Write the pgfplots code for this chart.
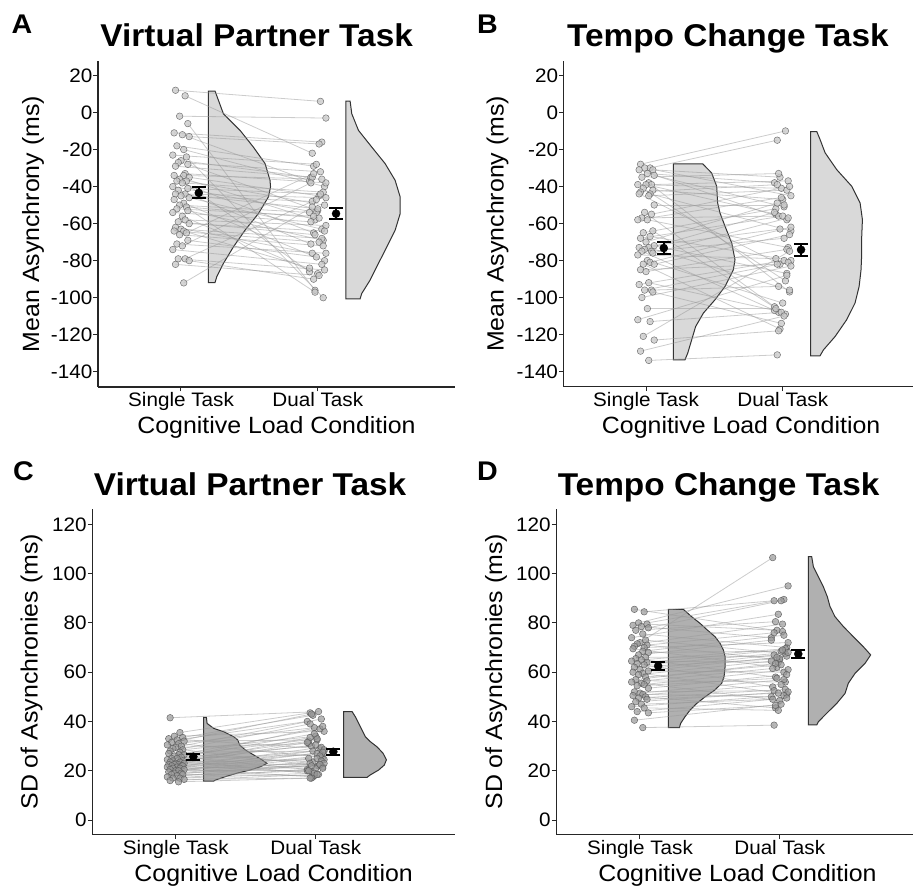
\documentclass[border=0pt]{standalone}
\usepackage{fontspec}
\setmainfont{Liberation Sans}[FakeStretch=1.06]
\usepackage{pgfplots}
\usepackage{pgfplotstable}
\pgfplotsset{compat=1.18}

\pgfplotstableread{
xs   xd   a1   a2    b1    b2    c1    c2    d1    d2
0.96 2.02  12    6   -28   -10   41.5  44    85.5  76.5
1.03 1.96   9  -22   -30   -15   35.5  43.5  84.5  89
0.99 2.06  -2   -3   -30   -45   34    36    80    95
1.05 1.98  -6  -96   -31   -35   33.5  42.5  79.5  77
0.95 2.03 -11  -16   -31   -58   33    29    79    89.5
1.01 1.94 -12  -37   -33   -38   32.5  40    78.5  74
1.06 2.01 -13  -17   -34   -51   32    32.5  78    89
0.97 1.97 -18  -29   -35   -33   31.5  43    77    80.5
1.02 2.05 -20  -40   -38   -97   31    25.5  75.5  70
0.94 1.99 -23  -28   -39   -41   30.5  37.5  74    83.5
1.04 2.04 -24 -100   -39   -37   30    41    73    67.5
1.00 1.95 -26  -35   -39   -55   29.5  31    72    106.5
0.98 2.02 -27  -32   -41   -91   29    22    71.5  79.5
1.05 2.00 -28  -53   -42   -47   28.5  34    71    65
0.96 1.96 -29  -35   -43   -39   28    39    70.5  76
1.03 2.06 -33  -38   -44   -64   27.5  28    70    72
0.95 1.98 -34  -58   -44   -82   27    23.5  69.5  62
1.02 2.03 -34  -36   -45   -42   26.5  37    68.5  75
1.06 2.01 -35  -45   -50   -50   26.5  33    68    68.5
0.99 1.94 -36  -86   -54  -105   26    20.5  67    73
1.04 2.05 -37  -50   -55   -40   25.5  38    66    66.5
0.97 1.97 -37  -65   -57   -56   25    30    65.5  58
1.01 2.04 -38  -43   -58   -73   25    26.5  65    69.5
0.94 1.99 -40  -54   -58   -46   24.5  35    64.5  64
1.05 2.02 -41  -44   -64  -109   24    18.5  64    69
0.98 1.95 -42  -71   -65   -52   24    32    63.5  54
1.03 2.06 -44  -46   -67   -80   23.5  24.5  63    68
0.96 2.00 -44  -52   -68   -56   23.5  30.5  62    65.5
1.00 1.96 -45  -48   -70   -49   23    33.5  61    67
1.06 2.03 -46  -63   -72   -87   23    22.5  60.5  60
0.95 1.98 -47  -97   -73   -63   22.5  28    60    66
1.02 2.05 -49  -80   -73   -96   22.5  21.5  59.5  51
0.99 1.94 -50  -54   -74   -54   22.5  31.5  59    64.5
1.04 2.01 -51  -57   -75   -68   22    27    58    63
0.97 1.97 -52  -56   -75  -108   22    19.5  57    63.5
1.05 2.04 -53  -69   -76   -57   22    29.5  56.5  56
0.94 1.95 -54  -59   -77   -79   21.5  25    56    61.5
1.01 2.00 -56  -87   -80  -103   21.5  21    55.5  48.5
1.03 2.06 -58  -61   -81   -62   21    28.5  55    61
0.98 1.98 -59  -66   -82  -117   21    17.5  54.5  57.5
1.06 2.05 -60  -64   -82   -66   20.5  27.5  53.5  59
0.96 1.96 -62  -76   -85   -82   20.5  23    52    52.5
1.00 2.03 -63  -68   -86   -74   20    26    51.5  57
1.02 1.94 -64  -84   -92  -107   20    20    51    50
0.95 2.01 -64  -70   -93   -80   19.5  25    50.5  55
1.04 1.97 -65  -33   -96   -94   19    22    50    45.5
0.99 2.04 -66  -72   -96   -81   19    24    49.5  53
1.05 1.99 -69  -78   -97  -114   18.5  18    49    51.5
0.97 2.06 -71  -76  -100   -83   18.5  23    48    52
1.01 1.95 -72  -38  -106  -106   18    20    47    49
0.94 2.03 -74  -82  -112   -88   17.5  22.5  46    50.5
1.03 1.99 -79  -47  -113  -108   17    19    45.5  44.5
0.98 2.05 -79  -85  -121   -75   17    21    44    49.5
1.06 1.97 -80  -90  -123  -118   16.5  17    43.5  46.5
0.96 2.01 -82  -88  -129  -110   16    18.5  40.5  47
1.02 1.96 -92  -51  -134  -131   15.5  17    37.5  38.5
}\data

\pgfplotsset{
  rc/.style={
    scale only axis, anchor=south west, clip=false,
    axis x line*=bottom, axis y line*=left,
    axis line style={black!85, line width=1.1pt},
    tick style={black!85, line width=1pt},
    major tick length=4.5pt, tick align=outside,
    xtick={1,2}, xticklabels={Single Task, Dual Task},
    ticklabel style={font=\fontsize{19.5}{22}\selectfont, text=black},
    /pgf/number format/assume math mode=true,
    yticklabel style={inner sep=1pt},
    xticklabel style={inner sep=1pt},
    label style={font=\fontsize{23.5}{27}\selectfont},
    xlabel style={anchor=base},
    ylabel style={anchor=base},
    every axis title shift=0pt,
    title style={font=\bfseries\fontsize{31.5}{35}\selectfont, anchor=base},
  },
  vAB/.style={fill=black!15, draw=black!80, line width=1pt},
  vCD/.style={fill=black!31, draw=black!80, line width=1pt},
  lns/.style={-, draw=black!40, draw opacity=0.5, line width=0.8pt, mark=none},
  ptAB/.style={only marks, mark=*, mark size=3.3pt,
    mark options={fill=black!22, draw=black!62, line width=0.5pt, fill opacity=0.75, draw opacity=0.85}},
  ptCD/.style={only marks, mark=*, mark size=3.3pt,
    mark options={fill=black!40, draw=black!65, line width=0.5pt, fill opacity=0.7, draw opacity=0.85}},
  meanst/.style={only marks, mark=*, mark size=4pt, black,
    error bars/.cd, y dir=both, y explicit, error mark=none,
    error bar style={line width=2pt, black}},
  capst/.style={only marks, mark=-, mark size=7pt, black, mark options={line width=2pt, black}},
}

\begin{document}
\begin{tikzpicture}
\path[use as bounding box] (0pt,0pt) rectangle (914pt,892pt);

% ---------------- A
\begin{axis}[rc, at={(98pt,505pt)}, width=357pt, height=326pt,
  xmin=0.393, xmax=3.004, ymin=-148.2, ymax=27.8, ytick={-140,-120,...,20},
  title={Virtual Partner Task}, title style={at={(axis description cs:0.4445,1.044)}},
  xlabel={Cognitive Load Condition}, xlabel style={at={(axis description cs:0.5,-0.144)}},
  ylabel={Mean Asynchrony (ms)}, ylabel style={at={(axis description cs:-0.165,0.5)}}]
\addplot[vAB] coordinates {(1.2,-91.8) (1.2,11.55) (1.249,11.55) (1.31,-0.67) (1.432,-9.66) (1.529,-18.65) (1.615,-27.6) (1.651,-36.6) (1.655,-40.2) (1.639,-45.6) (1.566,-54.6) (1.468,-63.6) (1.383,-72.6) (1.31,-81.5) (1.261,-88.8) (1.249,-91.8)} -- cycle;
\addplot[vAB] coordinates {(2.205,-100.6) (2.205,6.1) (2.237,6.1) (2.249,-0.67) (2.298,-9.66) (2.395,-18.65) (2.493,-27.6) (2.566,-36.6) (2.603,-45.6) (2.603,-54.6) (2.566,-63.6) (2.505,-72.6) (2.444,-81.5) (2.383,-90.5) (2.322,-97.7) (2.31,-100.6)} -- cycle;
\addplot[lns, quiver={u=\thisrow{xd}-\thisrow{xs}, v=\thisrow{a2}-\thisrow{a1}}] table[x=xs, y=a1] {\data};
\addplot[ptAB] table[x=xs, y=a1] {\data};
\addplot[ptAB] table[x=xd, y=a2] {\data};
\addplot[meanst] coordinates {(1.13,-43.4) +- (0,3.0) (2.134,-54.6) +- (0,3.0)};
\addplot[capst] coordinates {(1.13,-40.4) (1.13,-46.4) (2.134,-51.6) (2.134,-57.6)};
\end{axis}

% ---------------- B
\begin{axis}[rc, at={(563.7pt,505.3pt)}, width=349.3pt, height=325.7pt,
  xmin=0.398, xmax=2.953, ymin=-148.2, ymax=27.8, ytick={-140,-120,...,20},
  title={Tempo Change Task}, title style={at={(axis description cs:0.47,1.044)}},
  xlabel={Cognitive Load Condition}, xlabel style={at={(axis description cs:0.508,-0.144)}},
  ylabel={Mean Asynchrony (ms)}, ylabel style={at={(axis description cs:-0.172,0.5)}}]
\addplot[vAB] coordinates {(1.2,-133.7) (1.2,-27.8) (1.415,-27.8) (1.48,-32.7) (1.517,-39.9) (1.524,-48.9) (1.541,-54.3) (1.578,-61.5) (1.627,-70.5) (1.651,-79.6) (1.639,-85.0) (1.578,-94.0) (1.505,-101.2) (1.42,-108.4) (1.363,-115.7) (1.334,-122.9) (1.305,-130.1) (1.285,-133.7)} -- cycle;
\addplot[vAB] coordinates {(2.205,-131.5) (2.205,-10.3) (2.249,-10.3) (2.273,-14.6) (2.31,-21.8) (2.395,-30.9) (2.505,-39.9) (2.566,-48.9) (2.583,-57.9) (2.578,-67.0) (2.578,-75.9) (2.573,-85.0) (2.559,-94.0) (2.529,-103.0) (2.468,-112.0) (2.383,-121.1) (2.298,-128.3) (2.273,-131.5)} -- cycle;
\addplot[lns, quiver={u=\thisrow{xd}-\thisrow{xs}, v=\thisrow{b2}-\thisrow{b1}}] table[x=xs, y=b1] {\data};
\addplot[ptAB] table[x=xs, y=b1] {\data};
\addplot[ptAB] table[x=xd, y=b2] {\data};
\addplot[meanst] coordinates {(1.13,-73.3) +- (0,3.4) (2.134,-74.2) +- (0,3.2)};
\addplot[capst] coordinates {(1.13,-69.9) (1.13,-76.7) (2.134,-71.0) (2.134,-77.4)};
\end{axis}

% ---------------- C
\begin{axis}[rc, at={(92.3pt,57.7pt)}, width=362.7pt, height=325pt,
  xmin=0.404, xmax=2.995, ymin=-5.8, ymax=126.1, ytick={0,20,...,120},
  title={Virtual Partner Task}, title style={at={(axis description cs:0.435,1.041)}},
  xlabel={Cognitive Load Condition}, xlabel style={at={(axis description cs:0.5,-0.145)}},
  ylabel={SD of Asynchronies (ms)}, ylabel style={at={(axis description cs:-0.151,0.5)}}]
\addplot[vCD] coordinates {(1.2,15.8) (1.2,41.7) (1.219,41.7) (1.224,39.2) (1.271,37.2) (1.343,35.8) (1.414,33.8) (1.443,32.5) (1.457,30.4) (1.498,28.4) (1.557,26.4) (1.617,24.4) (1.652,23.0) (1.605,21.6) (1.533,20.3) (1.438,19.0) (1.355,17.6) (1.283,16.2) (1.271,15.8)} -- cycle;
\addplot[vCD] coordinates {(2.2,17.3) (2.2,44.0) (2.26,44.0) (2.283,41.9) (2.307,39.2) (2.331,36.5) (2.355,33.8) (2.39,31.8) (2.438,29.7) (2.481,27.1) (2.505,24.4) (2.49,22.3) (2.45,20.3) (2.39,18.3) (2.367,17.3)} -- cycle;
\addplot[lns, quiver={u=\thisrow{xd}-\thisrow{xs}, v=\thisrow{c2}-\thisrow{c1}}] table[x=xs, y=c1] {\data};
\addplot[ptCD] table[x=xs, y=c1] {\data};
\addplot[ptCD] table[x=xd, y=c2] {\data};
\addplot[meanst] coordinates {(1.126,25.7) +- (0,1.2) (2.126,27.7) +- (0,1.2)};
\addplot[capst] coordinates {(1.126,26.9) (1.126,24.5) (2.126,28.9) (2.126,26.5)};
\end{axis}

% ---------------- D
\begin{axis}[rc, at={(556.3pt,57.7pt)}, width=356.7pt, height=325pt,
  xmin=0.401, xmax=2.954, ymin=-5.8, ymax=126.1, ytick={0,20,...,120},
  title={Tempo Change Task}, title style={at={(axis description cs:0.455,1.041)}},
  xlabel={Cognitive Load Condition}, xlabel style={at={(axis description cs:0.508,-0.145)}},
  ylabel={SD of Asynchronies (ms)}, ylabel style={at={(axis description cs:-0.152,0.5)}}]
\addplot[vCD] coordinates {(1.203,37.5) (1.203,85.5) (1.31,85.5) (1.37,82.5) (1.43,79.8) (1.482,77.1) (1.537,74.4) (1.573,71.7) (1.597,69.0) (1.609,66.3) (1.609,62.2) (1.602,58.2) (1.585,55.5) (1.537,52.8) (1.466,50.0) (1.406,47.3) (1.358,44.6) (1.322,41.9) (1.291,39.2) (1.282,37.5)} -- cycle;
\addplot[vCD] coordinates {(2.205,38.6) (2.205,106.9) (2.229,106.9) (2.241,102.8) (2.277,98.7) (2.312,94.7) (2.341,90.6) (2.36,86.6) (2.396,82.5) (2.456,78.5) (2.527,74.4) (2.599,70.3) (2.651,67.0) (2.611,63.6) (2.539,59.5) (2.491,55.5) (2.468,51.4) (2.408,47.3) (2.336,43.3) (2.277,39.9) (2.265,38.6)} -- cycle;
\addplot[lns, quiver={u=\thisrow{xd}-\thisrow{xs}, v=\thisrow{d2}-\thisrow{d1}}] table[x=xs, y=d1] {\data};
\addplot[ptCD] table[x=xs, y=d1] {\data};
\addplot[ptCD] table[x=xd, y=d2] {\data};
\addplot[meanst] coordinates {(1.13,62.5) +- (0,1.5) (2.133,67.4) +- (0,1.7)};
\addplot[capst] coordinates {(1.13,64.0) (1.13,61.0) (2.133,69.1) (2.133,65.7)};
\end{axis}

\node[anchor=base west, inner sep=0pt, font=\bfseries\fontsize{27}{30}\selectfont] at (11.5pt,858.7pt) {A};
\node[anchor=base west, inner sep=0pt, font=\bfseries\fontsize{27}{30}\selectfont] at (477pt,858.7pt) {B};
\node[anchor=base west, inner sep=0pt, font=\bfseries\fontsize{27}{30}\selectfont] at (13pt,411pt) {C};
\node[anchor=base west, inner sep=0pt, font=\bfseries\fontsize{27}{30}\selectfont] at (477pt,411pt) {D};
\end{tikzpicture}
\end{document}
